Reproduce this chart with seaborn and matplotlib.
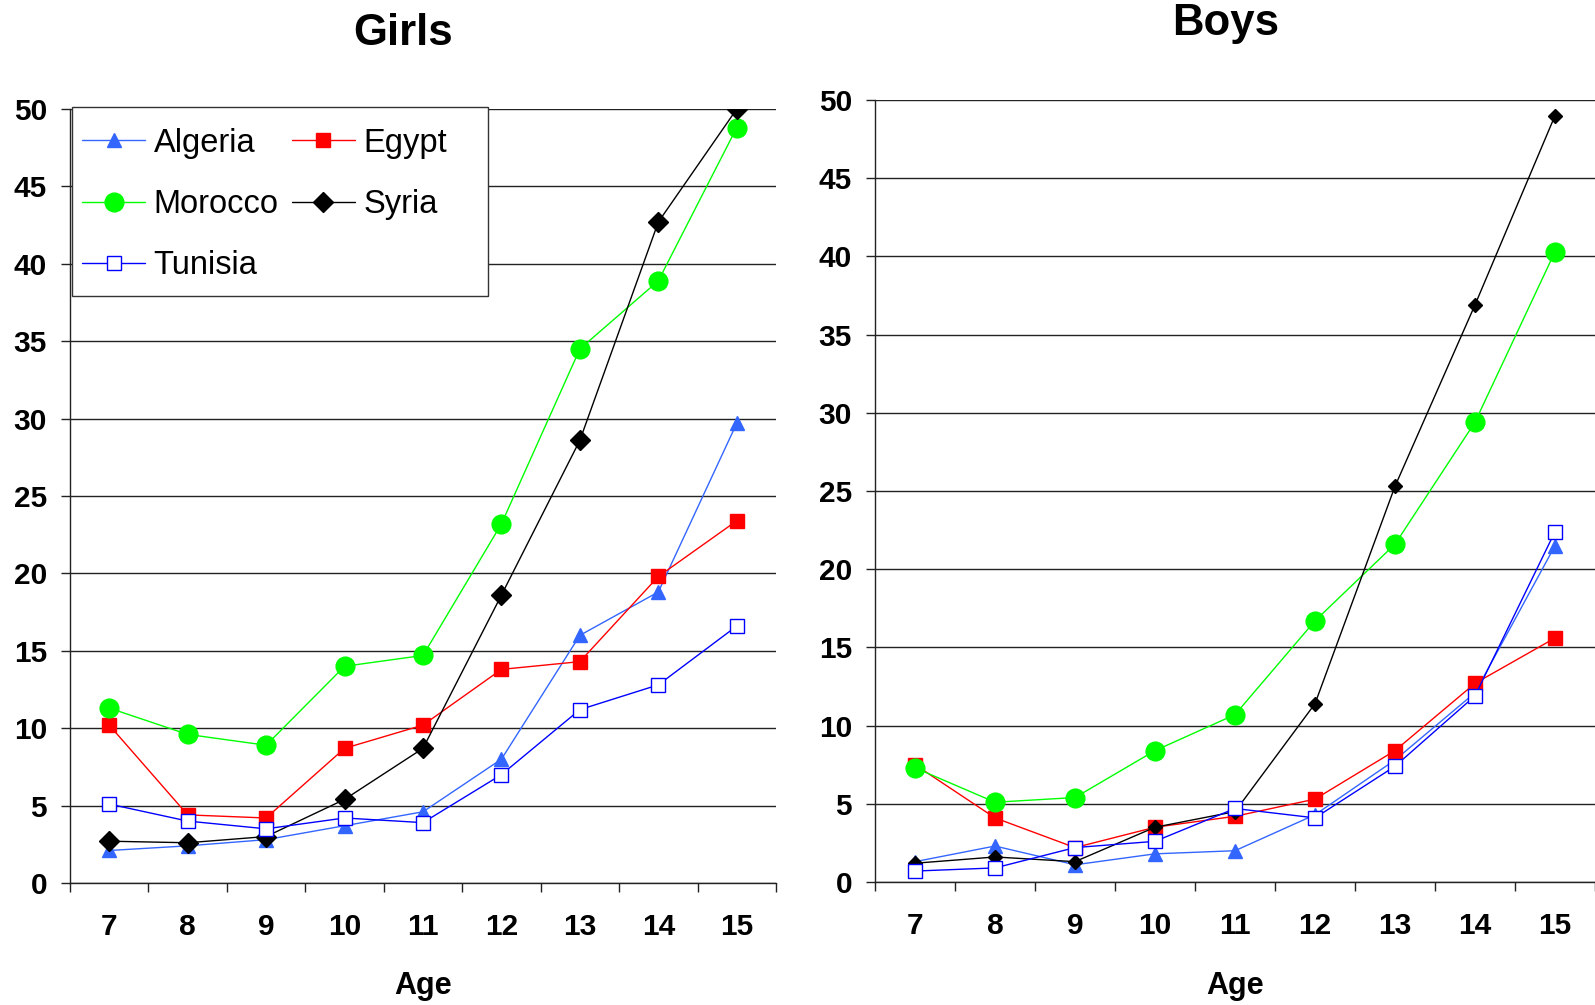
import matplotlib
matplotlib.use("Agg")
import matplotlib.pyplot as plt
import seaborn as sns
import pandas as pd
from matplotlib.lines import Line2D
from matplotlib.patches import Rectangle

# Prevalence by age (%), girls and boys
ages = [7, 8, 9, 10, 11, 12, 13, 14, 15]
countries = ["Algeria", "Egypt", "Morocco", "Syria", "Tunisia"]

girls_algeria = [2.1, 2.4, 2.8, 3.7, 4.6, 8.0, 16.0, 18.8, 29.7]
girls_egypt = [10.2, 4.4, 4.2, 8.7, 10.2, 13.8, 14.3, 19.8, 23.4]
girls_morocco = [11.3, 9.6, 8.9, 14.0, 14.7, 23.2, 34.5, 38.9, 48.8]
girls_syria = [2.7, 2.6, 3.0, 5.4, 8.7, 18.6, 28.6, 42.7, 50.0]
girls_tunisia = [5.1, 4.0, 3.5, 4.2, 3.9, 7.0, 11.2, 12.8, 16.6]

boys_algeria = [1.3, 2.3, 1.1, 1.8, 2.0, 4.3, 7.8, 12.1, 21.5]
boys_egypt = [7.5, 4.1, 2.2, 3.5, 4.2, 5.3, 8.4, 12.7, 15.6]
boys_morocco = [7.3, 5.1, 5.4, 8.4, 10.7, 16.7, 21.6, 29.4, 40.3]
boys_syria = [1.2, 1.6, 1.3, 3.5, 4.5, 11.4, 25.3, 36.9, 49.0]
boys_tunisia = [0.7, 0.9, 2.2, 2.6, 4.7, 4.1, 7.4, 11.9, 22.4]

yticks = [0, 5, 10, 15, 20, 25, 30, 35, 40, 45, 50]

girls = {"Algeria": girls_algeria, "Egypt": girls_egypt, "Morocco": girls_morocco,
         "Syria": girls_syria, "Tunisia": girls_tunisia}
boys = {"Algeria": boys_algeria, "Egypt": boys_egypt, "Morocco": boys_morocco,
        "Syria": boys_syria, "Tunisia": boys_tunisia}


def long_form(d):
    rows = []
    for c in countries:
        for a, v in zip(ages, d[c]):
            rows.append({"Age": a, "Country": c, "Value": v})
    return pd.DataFrame(rows)


df_girls = long_form(girls)
df_boys = long_form(boys)

# Series styling
styles = {
    "Algeria": dict(color="#3366FF", marker="^", ms=10, mfc="#3366FF", mec="#3366FF"),
    "Egypt": dict(color="#FF0000", marker="s", ms=10, mfc="#FF0000", mec="#FF0000"),
    "Morocco": dict(color="#00FF00", marker="o", ms=13.5, mfc="#00FF00", mec="#00FF00"),
    "Syria": dict(color="#000000", marker="D", ms=10.5, mfc="#000000", mec="#000000"),
    "Tunisia": dict(color="#0000FF", marker="s", ms=10, mfc="white", mec="#0000FF"),
}
boys_ms = {"Syria": 7.2}

sns.set_style("white")
plt.rcParams["font.family"] = ["Liberation Sans", "DejaVu Sans"]
plt.rcParams["text.color"] = "black"
plt.rcParams["axes.labelcolor"] = "black"
plt.rcParams["xtick.color"] = "black"
plt.rcParams["ytick.color"] = "black"

TICK_FS = 21.5

fig = plt.figure(figsize=(15.95, 10.05), dpi=100)
W, H = 1595.0, 1005.0


def px_axes(left, top, right, bottom):
    return fig.add_axes([left / W, 1 - bottom / H, (right - left) / W, (bottom - top) / H])


ax_g = px_axes(70, 109, 776, 883)
ax_b = px_axes(875, 100, 1595, 882)


def draw(ax, df, small=None):
    small = small or {}
    for c in countries:
        st = styles[c]
        sub = df[df["Country"] == c]
        sns.lineplot(data=sub, x="Age", y="Value", ax=ax, legend=False,
                     color=st["color"], linewidth=1.0, marker=st["marker"],
                     markersize=small.get(c, st["ms"]),
                     markerfacecolor=st["mfc"], markeredgecolor=st["mec"],
                     markeredgewidth=1.0, zorder=3)
    ax.set_xlim(6.5, 15.5)
    ax.set_ylim(0, 50)
    ax.set_xticks(ages)
    ax.set_xticklabels([str(a) for a in ages])
    ax.set_xticks([a + 0.5 for a in [6] + ages], minor=True)
    ax.set_yticks(yticks)
    ax.set_yticklabels([str(t) for t in yticks])
    ax.tick_params(axis="x", which="major", length=0, pad=21.5, labelsize=TICK_FS)
    ax.tick_params(axis="x", which="minor", length=6.5, width=1.0, color="#222222",
                   direction="out", bottom=True)
    ax.tick_params(axis="y", which="major", length=6.5, width=1.0, color="#222222",
                   direction="out", left=True, pad=10, labelsize=TICK_FS)
    for lab in ax.get_xticklabels() + ax.get_yticklabels():
        lab.set_fontweight("bold")
    ax.yaxis.grid(True, color="#222222", linewidth=1.0, zorder=0)
    ax.xaxis.grid(False)
    ax.set_axisbelow(True)
    for s in ["top", "right"]:
        ax.spines[s].set_visible(False)
    for s in ["left", "bottom"]:
        ax.spines[s].set_color("#222222")
        ax.spines[s].set_linewidth(1.0)
    ax.set_ylabel("")
    ax.set_xlabel("Age", fontsize=22, fontweight="bold")
    ax.xaxis.set_label_coords(0.5, -0.114)


draw(ax_g, df_girls)
draw(ax_b, df_boys, boys_ms)

fig.text(403 / W, 1 - 45 / H, "Girls", ha="center", va="baseline",
         fontsize=31.5, fontweight="bold")
fig.text(1226 / W, 1 - 35 / H, "Boys", ha="center", va="baseline",
         fontsize=31.5, fontweight="bold")

# Legend box (white, thin dark frame) in the upper-left of the girls panel
box = Rectangle((72 / W, 1 - 296 / H), (488 - 72) / W, (296 - 107) / H,
                transform=fig.transFigure, facecolor="white", edgecolor="#333333",
                linewidth=1.0, zorder=4.5, clip_on=False)
ax_g.add_patch(box)

# Legend entries, row-wise: Algeria Egypt / Morocco Syria / Tunisia
order = ["Algeria", "Morocco", "Tunisia", "Egypt", "Syria"]
handles = []
for c in order:
    st = styles[c]
    handles.append(Line2D([], [], color=st["color"], linewidth=1.0, marker=st["marker"],
                          markersize=st["ms"], markerfacecolor=st["mfc"],
                          markeredgecolor=st["mec"], markeredgewidth=1.0, label=c))
leg = ax_g.legend(handles=handles, loc="upper left", ncol=2,
                  bbox_to_anchor=(67 / W, 1 - 113 / H), bbox_transform=fig.transFigure,
                  borderaxespad=0, frameon=False,
                  fontsize=23.5, handlelength=1.95, handletextpad=0.25,
                  columnspacing=0.4, labelspacing=0.93, borderpad=0.45)
leg.set_zorder(5)

fig.savefig("out.png", dpi=100)
